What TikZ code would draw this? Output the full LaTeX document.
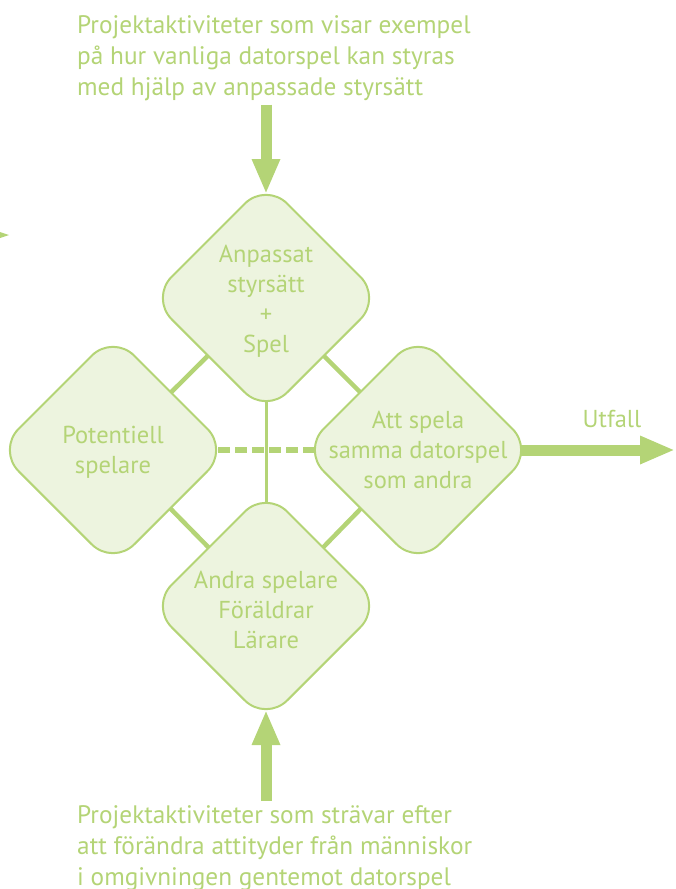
\documentclass[tikz,border=0pt]{standalone}
\usepackage{fontspec}
\setmainfont{PT Sans}
\usetikzlibrary{shapes.geometric,arrows.meta,backgrounds}
\definecolor{leaf}{RGB}{180,212,118}
\definecolor{leafpale}{RGB}{237,244,223}
\tikzset{
	spot/.style={diamond, aspect=1, draw=leaf, fill=leafpale, line width=2pt, minimum width=232pt, minimum height=232pt, inner sep=0pt, rounded corners=30pt},
	spottext/.style={text=leaf, align=center, font=\fontsize{24.5}{30}\selectfont, inner sep=0pt},
	note/.style={text=leaf, align=left, font=\fontsize{25.3}{31}\selectfont, inner sep=0pt},
	link/.style={leaf, line width=4.5pt},
	bigarrow/.style={leaf, line width=11pt, -{Triangle[length=35pt,width=26pt]}}
}
\begin{document}
\begin{tikzpicture}[x=1pt,y=-1pt]
		\useasboundingbox (0,0) rectangle (675,889);
		% Diamonds
			\node[spot] (game) at (266,298) {};
			\node[spot] (player) at (113,450) {};
			\node[spot] (same) at (418,450) {};
			\node[spot] (others) at (266,606) {};
			
			\node[spottext, yshift=-3pt] (gameText) at (game) {Anpassat\\styrsätt\\+\\Spel};
			\node[spottext, yshift=-2pt] (playerText) at (player) {Potentiell\\spelare};
			\node[spottext] (sameText) at (same) {Att spela\\samma datorspel\\som andra};
			\node[spottext, yshift=-4pt] (othersText) at (others) {Andra spelare\\Föräldrar\\Lärare};
			
		% Links, hidden behind the diamonds
			\coordinate (outcome) at (675,450);
			\begin{scope}[on background layer]
				\draw [link] (game.center) -- (player.center);
				\draw [link] (game.center) -- (same.center);
				\draw [link] (others.center) -- (player.center);
				\draw [link] (others.center) -- (same.center);
				\draw [leaf, line width=3pt] (game.center) -- (others.center);
				\draw [leaf, line width=6pt, dash pattern=on 12pt off 5pt, dash phase=14pt] (player.center) -- (same.center);
				\draw [bigarrow] (same.center) -- (outcome);
			\end{scope}
			\node[spottext, anchor=base] (outcomeText) at (612,427) {Utfall};
			
		% Project activities
			\node[note, anchor=north west] (topNote) at (77,15) {Projektaktiviteter som visar exempel\\på hur vanliga datorspel kan styras\\med hjälp av anpassade styrsätt};
			\node[note, anchor=north west] (bottomNote) at (77,805) {Projektaktiviteter som strävar efter\\att förändra attityder från människor\\i omgivningen gentemot datorspel};
			\draw [bigarrow, shorten <=4pt, shorten >=-13pt] (game |- topNote.south) -- (game.north);
			\draw [bigarrow, shorten <=4pt, shorten >=-13pt] (others |- bottomNote.north) -- (others.south);
			
			\fill [leaf] (0,232) -- (9,235) -- (0,238) -- cycle;
			
		\end{tikzpicture}
\end{document}
